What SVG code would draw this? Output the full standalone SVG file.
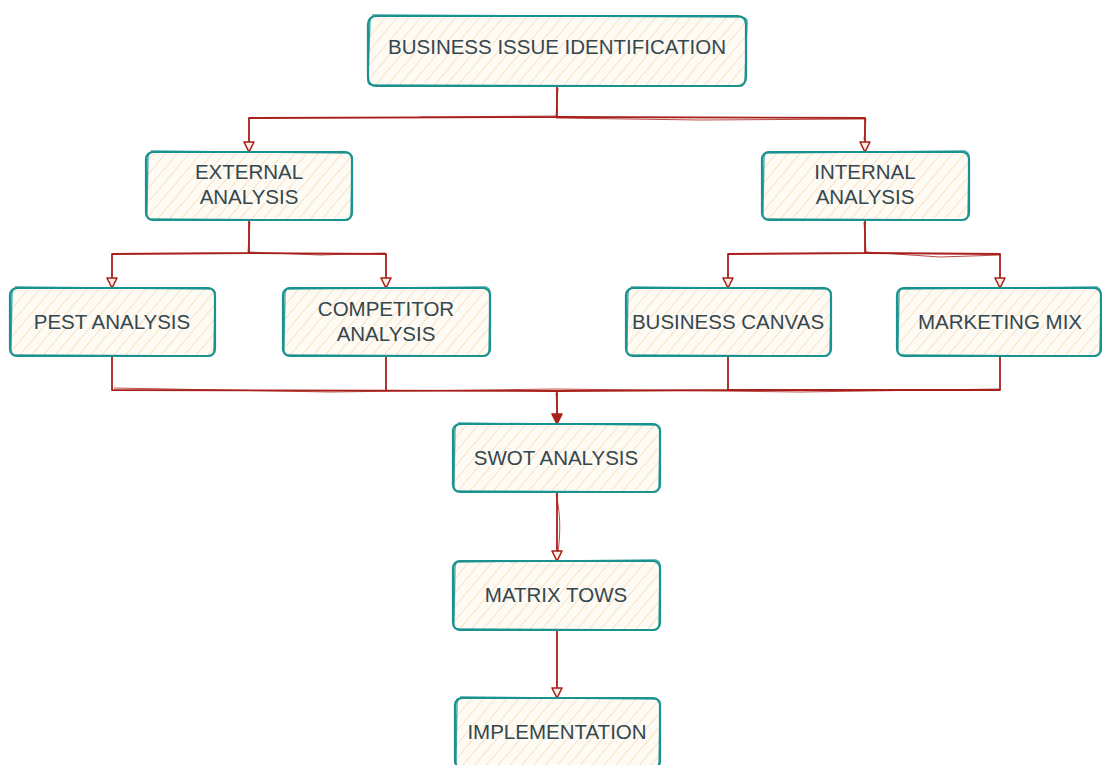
<svg xmlns="http://www.w3.org/2000/svg" width="1102" height="765" viewBox="0 0 1102 765">
<style>
.box{fill:url(#hatch);stroke:#1A9390;stroke-width:2.2;}
.box2{fill:none;stroke:#1A9390;stroke-width:1.3;opacity:0.85;}
.t{font-family:"Liberation Sans",Arial,sans-serif;font-size:20.5px;fill:#34474F;text-anchor:middle;}
.c{fill:none;stroke:#A8201A;stroke-width:1.8;stroke-linejoin:round;}
.c2{fill:none;stroke:#A8201A;stroke-width:1;opacity:0.8;}
</style>
<defs>
<pattern id="hatch" patternUnits="userSpaceOnUse" width="9" height="9" patternTransform="rotate(40)">
<rect width="9" height="9" fill="#FEFAF4"/>
<line x1="0" y1="0" x2="0" y2="9" stroke="#F8E2C4" stroke-width="2"/>
</pattern>
<marker id="arr" viewBox="0 0 14 14" refX="12" refY="7" markerWidth="14" markerHeight="14" markerUnits="userSpaceOnUse" orient="auto">
<path d="M2,2 L12,7 L2,12 Z" fill="#FBEFE6" stroke="#A8201A" stroke-width="1.6" stroke-linejoin="round"/>
</marker>
<marker id="arrf" viewBox="0 0 14 14" refX="12" refY="7" markerWidth="14" markerHeight="14" markerUnits="userSpaceOnUse" orient="auto">
<path d="M2,2 L12,7 L2,12 Z" fill="#A8201A" stroke="#A8201A" stroke-width="1.6" stroke-linejoin="round"/>
</marker>
</defs>

<g id="connectors">
<path class="c" d="M557,86 L557,117 L249,118 L249,152" marker-end="url(#arr)"/>
<path class="c" d="M557,117 L865,118 L865,152" marker-end="url(#arr)"/>
<path class="c2" d="M558,88 L556,116 L420,117"/>
<path class="c2" d="M556,118 L700,120 L866,119 L864,140"/>
<path class="c" d="M249,220 L249,253 L112,254 L112,288" marker-end="url(#arr)"/>
<path class="c" d="M249,253 L386,254 L386,288" marker-end="url(#arr)"/>
<path class="c2" d="M250,222 L248,252 L320,255 L385,253"/>
<path class="c" d="M865,220 L865,253 L728,254 L728,288" marker-end="url(#arr)"/>
<path class="c" d="M865,253 L1000,254 L1000,288" marker-end="url(#arr)"/>
<path class="c2" d="M864,222 L866,252 L940,257 L1001,255"/>
<path class="c" d="M112,356 L112,390 L557,391"/>
<path class="c" d="M386,356 L386,391"/>
<path class="c" d="M728,356 L728,390 L557,391"/>
<path class="c" d="M1000,356 L1000,390 L728,390"/>
<path class="c" d="M557,391 L557,424" marker-end="url(#arrf)"/>
<path class="c2" d="M114,388 L330,392 L556,389 L800,392 L999,389"/>
<path class="c2" d="M556,393 L558,418"/>
<path class="c" d="M557,492 L557,561" marker-end="url(#arr)"/>
<path class="c2" d="M556,494 C560,510 561,530 558,552"/>
<path class="c" d="M557,630 L557,698" marker-end="url(#arr)"/>
</g>

<g id="n-business-issue">
<rect class="box" x="368" y="16" width="378" height="70" rx="8"/>
<path class="box2" d="M372,15 L742,17 Q748,18 747,24 L745,80 Q745,87 738,86 L374,85 Q367,86 368,79 L370,22 Q370,15 376,16"/>
<text class="t" x="557" y="54">BUSINESS ISSUE IDENTIFICATION</text>
</g>

<g id="n-external">
<rect class="box" x="146" y="152" width="206" height="68" rx="7"/>
<path class="box2" d="M151,151 L348,153 Q353,154 352,160 L351,214 Q351,221 344,220 L152,219 Q146,220 147,213 L148,158 Q148,152 154,152"/>
<text class="t" x="249" y="179">EXTERNAL</text>
<text class="t" x="249" y="204">ANALYSIS</text>
</g>

<g id="n-internal">
<rect class="box" x="762" y="152" width="207" height="68" rx="7"/>
<path class="box2" d="M767,153 L965,151 Q970,153 969,159 L968,214 Q968,221 961,220 L768,219 Q762,219 763,213 L764,158 Q764,152 770,152"/>
<text class="t" x="865" y="179">INTERNAL</text>
<text class="t" x="865" y="204">ANALYSIS</text>
</g>

<g id="n-pest">
<rect class="box" x="10" y="288" width="205" height="68" rx="7"/>
<path class="box2" d="M15,287 L211,289 Q216,290 215,296 L214,350 Q214,357 207,356 L16,355 Q10,356 11,349 L12,294 Q12,288 18,288"/>
<text class="t" x="112" y="329">PEST ANALYSIS</text>
</g>

<g id="n-competitor">
<rect class="box" x="283" y="288" width="207" height="68" rx="7"/>
<path class="box2" d="M288,289 L486,287 Q491,289 490,295 L489,350 Q489,357 482,356 L289,355 Q283,355 284,349 L285,294 Q285,288 291,288"/>
<text class="t" x="386" y="316">COMPETITOR</text>
<text class="t" x="386" y="341">ANALYSIS</text>
</g>

<g id="n-business-canvas">
<rect class="box" x="626" y="288" width="205" height="68" rx="7"/>
<path class="box2" d="M631,287 L827,289 Q832,290 831,296 L830,350 Q830,357 823,356 L632,355 Q626,356 627,349 L628,294 Q628,288 634,288"/>
<text class="t" x="728" y="329">BUSINESS CANVAS</text>
</g>

<g id="n-marketing-mix">
<rect class="box" x="897" y="288" width="204" height="68" rx="7"/>
<path class="box2" d="M902,289 L1097,287 Q1101,289 1101,295 L1100,350 Q1100,357 1093,356 L903,355 Q897,355 898,349 L899,294 Q899,288 905,288"/>
<text class="t" x="1000" y="329">MARKETING MIX</text>
</g>

<g id="n-swot">
<rect class="box" x="453" y="424" width="207" height="68" rx="7"/>
<path class="box2" d="M458,423 L656,425 Q661,426 660,432 L659,486 Q659,493 652,492 L459,491 Q453,492 454,485 L455,430 Q455,424 461,424"/>
<text class="t" x="556" y="465">SWOT ANALYSIS</text>
</g>

<g id="n-matrix">
<rect class="box" x="453" y="561" width="207" height="69" rx="7"/>
<path class="box2" d="M458,562 L656,560 Q661,562 660,568 L659,624 Q659,631 652,630 L459,629 Q453,629 454,623 L455,567 Q455,561 461,561"/>
<text class="t" x="556" y="602">MATRIX TOWS</text>
</g>

<g id="n-implementation">
<rect class="box" x="455" y="698" width="205" height="70" rx="7"/>
<path class="box2" d="M460,697 L656,699 Q661,700 660,706 L659,766 L456,766 L457,704 Q457,698 463,698"/>
<text class="t" x="557" y="739">IMPLEMENTATION</text>
</g>
</svg>
